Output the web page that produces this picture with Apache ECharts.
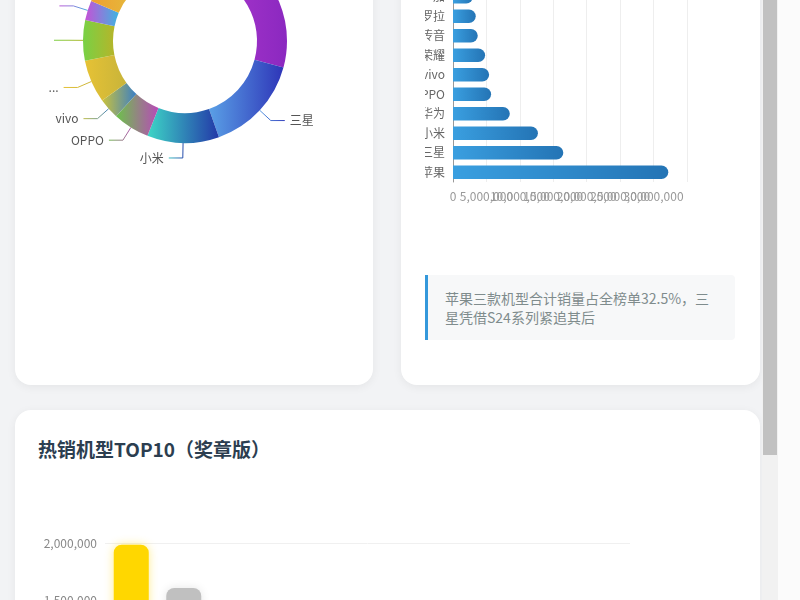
<!DOCTYPE html>
<html><head><meta charset="utf-8">
<script src="https://cdn.jsdelivr.net/npm/echarts@6/dist/echarts.min.js"></script>
<style>
html,body{margin:0;padding:0;width:800px;height:600px;overflow:hidden;background:#f2f3f5;font-family:"Noto Sans CJK SC","Noto Sans",sans-serif;}
.card{position:absolute;background:#fff;border-radius:16px;box-shadow:0 2px 10px rgba(0,0,0,0.06);}
.chart{position:absolute;}
#insight{position:absolute;left:425px;top:275px;width:275px;padding:14px 15px 13px 17px;border-left:3px solid #3498db;background:#f7f8f9;border-radius:0 4px 4px 0;color:#7f8c8d;font-size:14px;line-height:19px;}
#title3{position:absolute;left:38px;top:436px;font-size:19px;font-weight:bold;color:#2c3e50;line-height:26px;}
#track{position:absolute;left:762px;top:0;width:16px;height:600px;background:#f1f1f1;}
#thumb{position:absolute;left:763px;top:0;width:14px;height:455px;background:#c1c1c1;}
#edge{position:absolute;left:778px;top:0;width:22px;height:600px;background:#fbfbfb;}
</style></head>
<body>
<div class="card" style="left:15px;top:-400px;width:358px;height:785px;"></div>
<div class="card" style="left:401px;top:-400px;width:359px;height:785px;"></div>
<div class="card" style="left:15px;top:410px;width:745px;height:400px;"></div>
<div id="pieBox" class="chart" style="left:38px;top:-160px;width:312px;height:400px;"></div>
<div id="barBox" class="chart" style="left:425px;top:-100px;width:311px;height:400px;"></div>
<div id="insight">苹果三款机型合计销量占全榜单32.5%，三星凭借S24系列紧追其后</div>
<div id="title3">热销机型TOP10（奖章版）</div>
<div id="topBox" class="chart" style="left:38px;top:480px;width:699px;height:400px;"></div>
<div id="track"></div><div id="thumb"></div><div id="edge"></div>
<script>
// ---- data ----
const pieNames = ['苹果','三星','小米','OPPO','vivo','华为','荣耀','传音','摩托罗拉','其他'];
const pieValues = [29.2, 15.4, 11.4, 5.8, 3.3, 6.8, 6.4, 3.1, 9.0, 9.6];

const barNames = ['苹果','三星','小米','华为','OPPO','vivo','荣耀','传音','摩托罗拉','一加'];
const barValues = [32200000, 16500000, 12700000, 8500000, 5700000, 5400000, 4800000, 3700000, 3400000, 3000000];

const modelNames = ['iPhone 15 Pro Max','iPhone 15','Galaxy S24 Ultra','iPhone 15 Pro','Redmi Note 13','Galaxy A15','OPPO A3','vivo Y36','Honor X50','Xiaomi 14'];
const modelValues = [1985000, 1605000, 1420000, 1300000, 1150000, 1020000, 950000, 880000, 820000, 760000];
const modelAxisMax = 2000000;

// ---- styles ----
const pieStart = ['#b53cd0','#5aa0e6','#3dd6c6','#6cc24a','#c9c23d','#e6c235','#78d145','#c552d6','#f0a030','#e07a40'];
const pieEnd   = ['#8b28c0','#2e35b8','#2338a8','#b84ab8','#3b7fc4','#c8b43a','#b5b52a','#3fb4e0','#e0c040','#d04060'];
const medal = ['#FFD700','#C0C0C0','#CD7F32'];
const FONT = '"Noto Sans CJK SC","Noto Sans",sans-serif';

const pieChart = echarts.init(document.getElementById('pieBox'));
pieChart.setOption({
  animation:false,
  textStyle:{fontFamily:FONT},
  series:[{
    type:'pie',
    center:[147,201],
    radius:[72,102],
    label:{color:'#555',fontSize:12,fontFamily:FONT,bleedMargin:8},
    labelLine:{length:15,length2:14},
    data: pieNames.map((n,i)=>({name:n,value:pieValues[i],
      itemStyle:{color:new echarts.graphic.LinearGradient(0,0,1,0,[{offset:0,color:pieStart[i]},{offset:1,color:pieEnd[i]}])}}))
  }]
});

const barChart = echarts.init(document.getElementById('barBox'));
barChart.setOption({
  animation:false,
  textStyle:{fontFamily:FONT},
  grid:{left:28,right:49,top:87,bottom:118,outerBoundsMode:'none',containLabel:false},
  xAxis:{type:'value',axisLabel:{color:'#999',fontSize:12,fontFamily:FONT},splitLine:{lineStyle:{color:'#eee'}}},
  yAxis:{type:'category',data:barNames,axisLine:{lineStyle:{color:'#999'}},axisTick:{lineStyle:{color:'#999'}},axisLabel:{color:'#666',fontSize:12,fontFamily:FONT}},
  series:[{type:'bar',data:barValues,barWidth:'70%',
    itemStyle:{borderRadius:[0,10,10,0],color:new echarts.graphic.LinearGradient(0,0,1,0,[{offset:0,color:'#3a9fe0'},{offset:1,color:'#2474b5'}])}}]
});

const modelChart = echarts.init(document.getElementById('topBox'));
modelChart.setOption({
  animation:false,
  textStyle:{fontFamily:FONT},
  grid:{left:67,right:107,top:63,bottom:109,outerBoundsMode:'none',containLabel:false},
  xAxis:{type:'category',data:modelNames,axisLabel:{color:'#666'}},
  yAxis:{type:'value',min:0,max:modelAxisMax,interval:500000,axisLabel:{color:'#888',fontSize:12,fontFamily:FONT},splitLine:{lineStyle:{color:'#f0f0f0'}}},
  series:[{type:'bar',barWidth:35,
    data:modelValues.map((v,i)=>({value:v,itemStyle:{color:medal[i]||'#3498db',
      shadowBlur:i<3?10:0,shadowColor:i===0?'rgba(255,215,0,0.45)':'rgba(0,0,0,0.1)'}})),
    itemStyle:{borderRadius:[8,8,0,0]}}]
});
</script>
</body></html>
